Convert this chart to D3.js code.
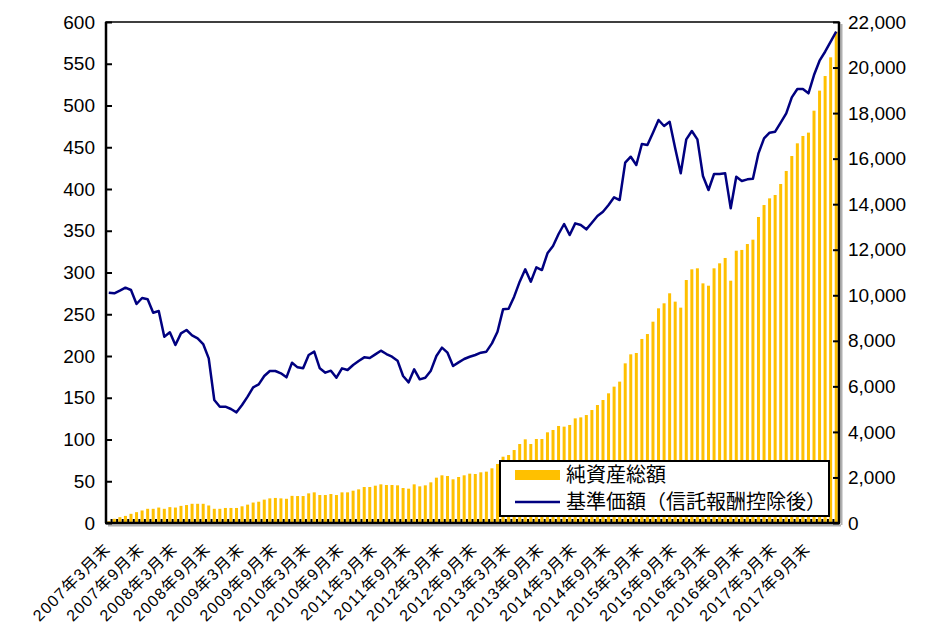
<!DOCTYPE html>
<html>
<head>
<meta charset="utf-8">
<script src="https://cdn.jsdelivr.net/npm/d3@7"></script>
<style>
  html, body { margin: 0; padding: 0; background: #fff; }
  svg { display: block; }
  text { font-family: "Liberation Sans", "Noto Sans CJK JP", sans-serif; fill: #000; }
</style>
</head>
<body>
<svg id="chart" width="928" height="631"></svg>
<script>
// ---- data ----
const startYear = 2007, startMonth = 3;
// 純資産総額 (left axis)
const netAssets = [
  2, 5, 7, 8.5, 11, 13, 15, 17, 17, 18.5,
  17, 19, 18.5, 20.5, 21.5, 23, 23, 23, 21, 17,
  17, 18, 18, 18, 20, 22, 24.5, 25.5, 28, 29.5,
  30, 29.5, 29, 32.5, 32.3, 32.3, 35.5, 36.7, 33.5, 33.5,
  34.7, 33.5, 36.7, 36.7, 38.7, 40.3, 43.1, 43.1, 44.7, 46.3,
  45.5, 45.5, 45.1, 41.9, 41.1, 46.3, 43.9, 45.1, 48.7, 54.3,
  57.1, 56.3, 52.3, 55.1, 57.1, 59.1, 58.7, 60.7, 61.5, 65.5,
  70.7, 79.4, 81.4, 87.4, 94.6, 100.2, 94.6, 100.6, 100.6, 108.6,
  111.4, 116.2, 115.4, 117.4, 125.3, 126.5, 129.3, 135.3, 141.3, 147.3,
  155.3, 163.3, 169.3, 191.2, 202, 203.6, 220.4, 226.3, 241.1, 257.1,
  263.1, 275.1, 265.1, 257.9, 291, 303.8, 305, 287, 284.2, 305,
  311, 317.4, 290.2, 326.1, 327, 334.1, 339.3, 366.5, 380.8, 388.8,
  392.8, 406, 421.6, 439.5, 454.7, 463.5, 467.5, 493.8, 517.8, 535.3,
  557.7, 588.4
];
// 基準価額(信託報酬控除後) (right axis)
const navValues = [
  10112, 10085, 10201, 10333, 10231, 9616, 9880, 9822, 9235, 9309,
  8182, 8372, 7816, 8328, 8475, 8240, 8109, 7860, 7231, 5401,
  5108, 5108, 5006, 4859, 5181, 5547, 5957, 6089, 6455, 6674,
  6674, 6572, 6396, 7040, 6835, 6791, 7377, 7523, 6791, 6601,
  6689, 6381, 6791, 6718, 6938, 7113, 7274, 7245, 7406, 7567,
  7421, 7304, 7128, 6455, 6176, 6747, 6308, 6381, 6689, 7333,
  7699, 7479, 6894, 7055, 7201, 7300, 7377, 7479, 7523, 7889,
  8401, 9382, 9411, 9939, 10597, 11139, 10597, 11227, 11109, 11841,
  12163, 12690, 13129, 12646, 13158, 13085, 12895, 13187, 13480, 13670,
  13963, 14300, 14183, 15822, 16085, 15720, 16642, 16598, 17139, 17696,
  17432, 17622, 16453, 15355, 16848, 17213, 16848, 15237, 14622, 15325,
  15325, 15355, 13818, 15208, 15017, 15091, 15120, 16233, 16892, 17139,
  17183, 17579, 17989, 18692, 19057, 19057, 18867, 19672, 20301, 20695,
  21134, 21573
];
const xTickKeys = ["2007-03","2007-09","2008-03","2008-09","2009-03","2009-09","2010-03","2010-09",
  "2011-03","2011-09","2012-03","2012-09","2013-03","2013-09","2014-03","2014-09","2015-03","2015-09",
  "2016-03","2016-09","2017-03","2017-09"];
const xTickLabels = ["2007年3月末","2007年9月末","2008年3月末","2008年9月末","2009年3月末","2009年9月末",
  "2010年3月末","2010年9月末","2011年3月末","2011年9月末","2012年3月末","2012年9月末","2013年3月末",
  "2013年9月末","2014年3月末","2014年9月末","2015年3月末","2015年9月末","2016年3月末","2016年9月末",
  "2017年3月末","2017年9月末"];
const leftTicks = [0,50,100,150,200,250,300,350,400,450,500,550,600];
const rightTicks = [0,2000,4000,6000,8000,10000,12000,14000,16000,18000,20000,22000];
const legendLabels = ["純資産総額", "基準価額（信託報酬控除後）"];

// categories
const months = netAssets.map((_, i) => {
  const m0 = startMonth - 1 + i;
  const y = startYear + Math.floor(m0 / 12);
  const m = (m0 % 12) + 1;
  return y + "-" + String(m).padStart(2, "0");
});
const rows = months.map((k, i) => ({ key: k, bar: netAssets[i], nav: navValues[i] }));

// ---- layout ----
const L = 106, R = 839, T = 22, B = 523;
const svg = d3.select("#chart");

const x = d3.scaleBand().domain(months).range([L, R]).paddingInner(0.46).paddingOuter(0.23);
const yL = d3.scaleLinear().domain([0, 600]).range([B, T]);
const yR = d3.scaleLinear().domain([0, 22000]).range([B, T]);
const bw = x.bandwidth(), step = x.step();

// shadows
svg.append("line").attr("x1", L + 2).attr("x2", R + 2).attr("y1", B + 2.5).attr("y2", B + 2.5)
  .attr("stroke", "#b0b0b0").attr("stroke-width", 2);
svg.append("line").attr("x1", R + 2.5).attr("x2", R + 2.5).attr("y1", T + 2).attr("y2", B + 2)
  .attr("stroke", "#b0b0b0").attr("stroke-width", 2);

// bars
svg.append("g").selectAll("rect").data(rows).join("rect")
  .attr("x", d => x(d.key)).attr("width", bw)
  .attr("y", d => yL(d.bar)).attr("height", d => B - yL(d.bar))
  .attr("fill", "#FFC000");

// category ticks (between bars)
svg.append("g").selectAll("line").data(months.slice(1)).join("line")
  .attr("x1", d => x(d) - (step - bw) / 2).attr("x2", d => x(d) - (step - bw) / 2)
  .attr("y1", B).attr("y2", B - 4)
  .attr("stroke", "#000").attr("stroke-width", 2);

// line
const line = d3.line().x(d => x(d.key) + bw / 2).y(d => yR(d.nav));
svg.append("path").datum(rows).attr("d", line)
  .attr("fill", "none").attr("stroke", "#000080").attr("stroke-width", 2.5)
  .attr("stroke-linejoin", "round");

// axes
const axL = svg.append("g").attr("transform", `translate(${L},0)`)
  .call(d3.axisLeft(yL).tickValues(leftTicks).tickSizeInner(-6).tickSizeOuter(0).tickPadding(11));
const axR = svg.append("g").attr("transform", `translate(${R},0)`)
  .call(d3.axisRight(yR).tickValues(rightTicks).tickFormat(d3.format(",")).tickSizeInner(-6).tickSizeOuter(0).tickPadding(9));
[axL, axR].forEach(a => {
  a.select(".domain").remove();
  a.selectAll(".tick line").attr("stroke", "#000").attr("stroke-width", 2);
  a.selectAll(".tick text").attr("font-size", 19).attr("font-family", "Liberation Sans, Noto Sans CJK JP, sans-serif").attr("fill", "#000");
});

// frame
svg.append("rect").attr("x", L).attr("y", T).attr("width", R - L).attr("height", B - T)
  .attr("fill", "none").attr("stroke", "#000").attr("stroke-width", 1.5);
svg.append("line").attr("x1", L).attr("x2", L).attr("y1", T).attr("y2", B).attr("stroke", "#000").attr("stroke-width", 2.5);
svg.append("line").attr("x1", R).attr("x2", R).attr("y1", T).attr("y2", B).attr("stroke", "#000").attr("stroke-width", 2.5);
svg.append("line").attr("x1", L - 1).attr("x2", R + 1).attr("y1", B).attr("y2", B).attr("stroke", "#000").attr("stroke-width", 2.5);

// x labels
svg.append("g").selectAll("text").data(xTickKeys).join("text")
  .attr("transform", d => `translate(${x(d) + bw / 2 + 3},550) rotate(-45)`)
  .attr("text-anchor", "end").attr("font-size", 16).attr("letter-spacing", "1.2px")
  .text((d, i) => xTickLabels[i]);

// legend
const lg = svg.append("g");
lg.append("rect").attr("x", 500).attr("y", 461).attr("width", 329).attr("height", 55)
  .attr("fill", "#fff").attr("stroke", "#000").attr("stroke-width", 2);
lg.append("rect").attr("x", 515).attr("y", 470).attr("width", 45).attr("height", 10).attr("fill", "#FFC000");
lg.append("line").attr("x1", 515).attr("x2", 560).attr("y1", 502).attr("y2", 502)
  .attr("stroke", "#000080").attr("stroke-width", 2.5);
lg.append("text").attr("x", 566).attr("y", 475).attr("dy", "0.36em").attr("font-size", 20).text(legendLabels[0]);
lg.append("text").attr("x", 566).attr("y", 502).attr("dy", "0.36em").attr("font-size", 20).text(legendLabels[1]);
</script>
</body>
</html>
